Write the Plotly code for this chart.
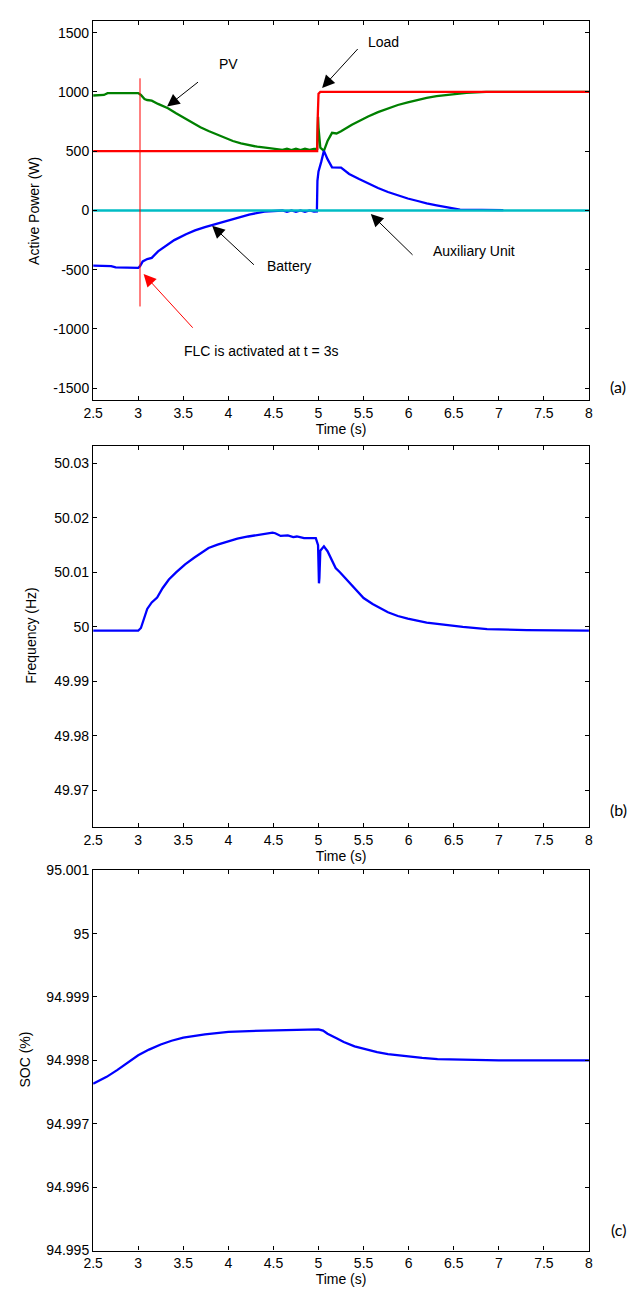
import plotly.graph_objects as go

# ---------------- data ----------------
# Panel (a): active power (W)
pv_t = [2.5, 2.62, 2.66, 3.0, 3.03, 3.07, 3.1, 3.15, 3.22, 3.33, 3.42, 3.51, 3.6, 3.69, 3.78,
        3.87, 3.96, 4.05, 4.14, 4.23, 4.32, 4.41, 4.52, 4.6, 4.65, 4.7, 4.75, 4.8, 4.85, 4.9,
        4.95, 4.985, 4.995, 5.0, 5.02, 5.06, 5.10, 5.15, 5.2, 5.25, 5.37, 5.46, 5.55, 5.66,
        5.77, 5.88, 5.99, 6.1, 6.20, 6.31, 6.42, 6.64, 6.86, 7.1, 8.0]
pv_p = [970, 975, 990, 990, 975, 940, 932, 926, 899, 863, 820, 780, 740, 702, 670,
        641, 612, 586, 566, 550, 538, 530, 522, 512, 522, 510, 522, 510, 522, 512,
        520, 520, 790, 700, 530, 503, 586, 655, 650, 669, 724, 760, 793, 830,
        862, 890, 912, 933, 951, 964, 974, 993, 1000, 1000, 1000]

load_t = [2.5, 4.985, 4.992, 5.0, 5.02, 8.0]
load_p = [500, 500, 800, 985, 1000, 1000]

bat_t = [2.5, 2.7, 2.75, 3.0, 3.02, 3.05, 3.1, 3.15, 3.22, 3.31, 3.40, 3.53, 3.63, 3.74,
         3.90, 4.05, 4.23, 4.40, 4.6, 4.65, 4.7, 4.75, 4.8, 4.85, 4.9, 4.95, 4.982, 4.988,
         5.0, 5.03, 5.06, 5.10, 5.15, 5.25, 5.34, 5.45, 5.55, 5.66, 5.77, 5.88, 5.99, 6.1,
         6.20, 6.31, 6.42, 6.57, 7.05]
bat_p = [-465, -470, -480, -485, -470, -430, -410, -400, -345, -300, -250, -200, -168, -140,
         -105, -70, -35, -10, 0, -12, 0, -12, 0, -12, 0, -10, -8, 250,
         330, 410, 503, 433, 364, 362, 308, 265, 226, 190, 156, 126, 101, 80,
         59, 44, 31, 8, 3]

aux_t = [2.5, 8.0]
aux_p = [0, 0]

flc_t = [3.02, 3.02]
flc_p = [-810, 1115]

# Panel (b): frequency (Hz)
freq_t = [2.5, 3.0, 3.03, 3.06, 3.10, 3.15, 3.21, 3.27, 3.34, 3.42, 3.52, 3.62, 3.78, 3.88,
          4.00, 4.10, 4.22, 4.35, 4.49, 4.52, 4.58, 4.66, 4.72, 4.76, 4.84, 4.97, 4.995,
          5.005, 5.01, 5.02, 5.06, 5.10, 5.14, 5.19, 5.24, 5.33, 5.40, 5.50, 5.60, 5.70,
          5.77, 5.88, 5.99, 6.2, 6.43, 6.6, 6.87, 7.31, 8.0]
freq_f = [49.9993, 49.9993, 49.9998, 50.0015, 50.0033, 50.0045, 50.0054, 50.0071, 50.0087,
          50.0100, 50.0115, 50.0127, 50.0145, 50.0151, 50.0157, 50.0162, 50.0166, 50.0170,
          50.0173, 50.0172, 50.0167, 50.0168, 50.0165, 50.0166, 50.0163, 50.0163, 50.0150,
          50.0080, 50.0090, 50.0140, 50.0148, 50.0139, 50.0125, 50.0108, 50.0100, 50.0084,
          50.0070, 50.0053, 50.0042, 50.0033, 50.0027, 50.0020, 50.0015, 50.0008, 50.0003,
          50.0000, 49.9996, 49.9994, 49.9993]

# Panel (c): state of charge (%)
soc_t = [2.5, 2.65, 2.77, 2.9, 3.0, 3.12, 3.25, 3.37, 3.5, 3.74, 4.0, 4.4, 5.0, 5.05, 5.1,
         5.2, 5.28, 5.4, 5.5, 5.65, 5.77, 5.99, 6.15, 6.32, 6.98, 7.0, 8.0]
soc_s = [94.99763, 94.99774, 94.99785, 94.99798, 94.99808, 94.99817, 94.99825, 94.99831,
         94.99836, 94.99841, 94.99845, 94.99847, 94.99849, 94.99847, 94.99842, 94.99835,
         94.99829, 94.99822, 94.99818, 94.99813, 94.99810, 94.99806, 94.99804, 94.99802,
         94.99801, 94.99800, 94.99800]

# tick labels
x_ticks = [2.5, 3, 3.5, 4, 4.5, 5, 5.5, 6, 6.5, 7, 7.5, 8]
x_ticktext = ["2.5", "3", "3.5", "4", "4.5", "5", "5.5", "6", "6.5", "7", "7.5", "8"]
p_ticks = [1500, 1000, 500, 0, -500, -1000, -1500]
p_ticktext = ["1500", "1000", "500", "0", "-500", "-1000", "-1500"]
f_ticks = [50.03, 50.02, 50.01, 50.0, 49.99, 49.98, 49.97]
f_ticktext = ["50.03", "50.02", "50.01", "50", "49.99", "49.98", "49.97"]
s_ticks = [95.001, 95.0, 94.999, 94.998, 94.997, 94.996, 94.995]
s_ticktext = ["95.001", "95", "94.999", "94.998", "94.997", "94.996", "94.995"]

# ---------------- figure ----------------
W, H = 636, 1299
FONT = "Liberation Sans, Arial, sans-serif"
GREEN, RED, BLUE, CYAN = "#008000", "#ff0000", "#0000ff", "#00bcc4"

fig = go.Figure()
lw = 2.3
fig.add_trace(go.Scatter(x=pv_t, y=pv_p, mode="lines", line=dict(color=GREEN, width=lw),
                         xaxis="x", yaxis="y", showlegend=False))
fig.add_trace(go.Scatter(x=load_t, y=load_p, mode="lines", line=dict(color=RED, width=lw),
                         xaxis="x", yaxis="y", showlegend=False))
fig.add_trace(go.Scatter(x=bat_t, y=bat_p, mode="lines", line=dict(color=BLUE, width=lw),
                         xaxis="x", yaxis="y", showlegend=False))
fig.add_trace(go.Scatter(x=aux_t, y=aux_p, mode="lines", line=dict(color=CYAN, width=lw),
                         xaxis="x", yaxis="y", showlegend=False))
fig.add_trace(go.Scatter(x=flc_t, y=flc_p, mode="lines", line=dict(color=RED, width=1),
                         xaxis="x", yaxis="y", showlegend=False))
fig.add_trace(go.Scatter(x=freq_t, y=freq_f, mode="lines", line=dict(color=BLUE, width=lw),
                         xaxis="x2", yaxis="y2", showlegend=False))
fig.add_trace(go.Scatter(x=soc_t, y=soc_s, mode="lines", line=dict(color=BLUE, width=lw),
                         xaxis="x3", yaxis="y3", showlegend=False))

xl, xr = 85 / W, 592 / W
def ydom(top, bot):
    return [1 - bot / H, 1 - top / H]

common = dict(showline=True, linecolor="black", linewidth=1.3, mirror="allticks",
              ticks="inside", ticklen=4, tickcolor="black", showgrid=False, zeroline=False,
              tickfont=dict(family=FONT, size=14, color="black"))

def xaxis_cfg(anchor):
    return dict(domain=[xl, xr], range=[2.5, 8], anchor=anchor, tickvals=x_ticks,
                ticktext=x_ticktext,
                title=dict(text="Time (s)", font=dict(family=FONT, size=14, color="black"),
                           standoff=2),
                **common)

fig.update_layout(
    width=W, height=H, margin=dict(l=0, r=0, t=0, b=0),
    paper_bgcolor="white", plot_bgcolor="white",
    xaxis=xaxis_cfg("y"),
    yaxis=dict(domain=ydom(13, 397), range=[-1600, 1600], anchor="x", tickvals=p_ticks,
               ticktext=p_ticktext, **common),
    xaxis2=xaxis_cfg("y2"),
    yaxis2=dict(domain=ydom(443, 829), range=[49.9633, 50.0333], anchor="x2",
                tickvals=f_ticks, ticktext=f_ticktext, **common),
    xaxis3=xaxis_cfg("y3"),
    yaxis3=dict(domain=ydom(873, 1258), range=[94.995, 95.001], anchor="x3",
                tickvals=s_ticks, ticktext=s_ticktext, **common),
)

tf = dict(family=FONT, size=14, color="black")
ann = []
# y titles
for txt, px, py in [("Active Power (W)", 25, 205), ("Frequency (Hz)", 22, 636), ("SOC (%)", 15, 1065)]:
    ann.append(dict(text=txt, x=px / W, y=1 - py / H, xref="paper", yref="paper",
                    showarrow=False, textangle=-90, font=tf, xanchor="center", yanchor="middle"))
# panel letters
for txt, py in [("(a)", 383), ("(b)", 812), ("(c)", 1237)]:
    ann.append(dict(text=txt, x=622 / W, y=1 - py / H, xref="paper", yref="paper",
                    showarrow=False, font=dict(family="Lato, Open Sans, sans-serif", size=16, color="black"),
                    xanchor="center", yanchor="middle"))
# text labels in panel (a)
for txt, x, y in [("PV", 4.0, 1234), ("Load", 5.72, 1425), ("Battery", 4.67, -470),
                  ("Auxiliary Unit", 6.73, -345), ("FLC is activated at t = 3s", 4.36, -1185)]:
    ann.append(dict(text=txt, x=x, y=y, xref="x", yref="y", showarrow=False, font=tf,
                    xanchor="center", yanchor="middle"))
# arrows (head x,y ; tail ax,ay) in data coordinates
for hx, hy, tx, ty, col in [(3.32, 877, 3.68, 1093, "black"), (5.04, 1034, 5.45, 1375, "black"),
                            (3.82, -129, 4.30, -470, "black"), (5.58, -30, 6.06, -387, "black"),
                            (3.06, -537, 3.62, -1002, "red")]:
    ann.append(dict(text="", x=hx, y=hy, ax=tx, ay=ty, xref="x", yref="y", axref="x", ayref="y",
                    showarrow=True, arrowhead=2, arrowsize=2.5, arrowwidth=1, arrowcolor=col,
                    standoff=0, startstandoff=0))
fig.update_layout(annotations=ann)

fig.write_html(
    "out.html",
    config={"displayModeBar": False},
    post_script="document.body.style.margin='0';document.body.style.padding='0';"
                "document.documentElement.style.overflow='hidden';",
)
